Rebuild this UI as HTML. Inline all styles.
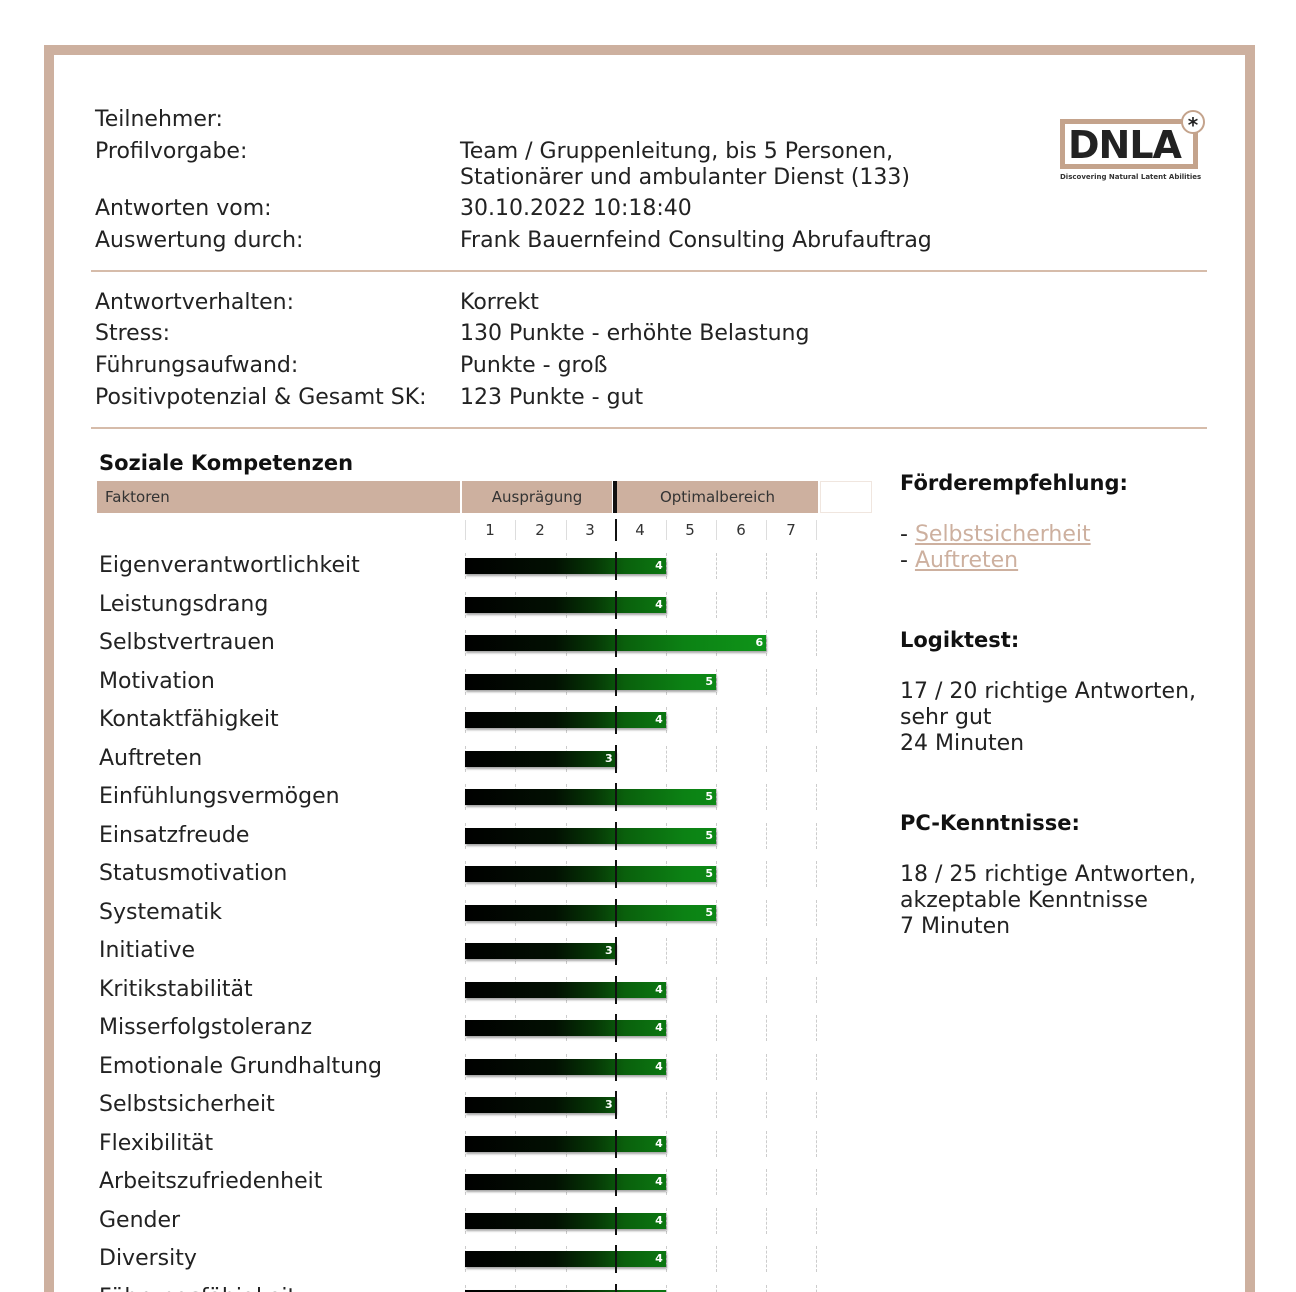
<!DOCTYPE html>
<html><head><meta charset="utf-8"><style>
html,body{margin:0;width:1296px;height:1292px;overflow:hidden}
body{background:#fff;font-family:"DejaVu Sans","Liberation Sans",sans-serif;color:#222;position:relative}
.a{position:absolute;white-space:nowrap;line-height:26px}
.t{font-size:22px}
.frame{position:absolute;left:44px;top:45px;width:1191px;height:1260px;border:10px solid #cdb09f;border-bottom:none}
.hr{position:absolute;left:91px;width:1116px;height:2px;background:#d6bcaa}
.hd{position:absolute;top:481px;height:32px;background:#cdb09f;font-size:15px;line-height:32px;color:#333}
.row{position:absolute;left:0;width:1296px;height:28px}
.row .l{position:absolute;left:99px;top:0;font-size:22px;line-height:28px}
.g{position:absolute;top:1px;width:0;height:26px;border-left:1px dashed #ccc}
.k{position:absolute;left:615px;top:0;width:2px;height:28px;background:#111}
.b{position:absolute;left:465px;top:6px;height:16px;background:linear-gradient(90deg,#000 0px,#021002 90px,#063806 130px,#0a600c 160px,#0c8214 220px,#10a01c 351px);background-size:351px 16px;box-shadow:1px 2px 2px rgba(0,0,0,.35);color:#fff;font-size:11px;font-weight:bold;text-align:right;line-height:16px;box-sizing:border-box;padding-right:3px}
.n{position:absolute;top:518px;font-size:15px;line-height:24px;width:50px;text-align:center;color:#333}
</style></head><body>
<div class="frame"></div>
<div class="a t" style="left:95px;top:107px">Teilnehmer:</div>
<div class="a t" style="left:95px;top:139px">Profilvorgabe:</div>
<div class="a t" style="left:460px;top:139px">Team / Gruppenleitung, bis 5 Personen,</div>
<div class="a t" style="left:460px;top:165px">Stationärer und ambulanter Dienst (133)</div>
<div class="a t" style="left:95px;top:196px">Antworten vom:</div>
<div class="a t" style="left:460px;top:196px">30.10.2022 10:18:40</div>
<div class="a t" style="left:95px;top:228px">Auswertung durch:</div>
<div class="a t" style="left:460px;top:228px">Frank Bauernfeind Consulting Abrufauftrag</div>
<div class="hr" style="top:270px"></div>
<div class="a t" style="left:95px;top:290px">Antwortverhalten:</div>
<div class="a t" style="left:460px;top:290px">Korrekt</div>
<div class="a t" style="left:95px;top:321px">Stress:</div>
<div class="a t" style="left:460px;top:321px">130 Punkte - erhöhte Belastung</div>
<div class="a t" style="left:95px;top:353px">Führungsaufwand:</div>
<div class="a t" style="left:460px;top:353px">Punkte - groß</div>
<div class="a t" style="left:95px;top:385px">Positivpotenzial &amp; Gesamt SK:</div>
<div class="a t" style="left:460px;top:385px">123 Punkte - gut</div>
<div class="hr" style="top:427px"></div>
<!-- logo -->
<div style="position:absolute;left:1060px;top:119px;width:138px;height:50px;border:5px solid #c4a38c;box-sizing:border-box"></div>
<div class="a" style="left:1068px;top:124px;font-size:38px;line-height:42px;font-weight:bold;color:#222;letter-spacing:-1px">DNLA</div>
<div style="position:absolute;left:1181px;top:110px;width:24px;height:24px;border:2px solid #c4a38c;border-radius:50%;background:#fff;box-sizing:border-box;font-size:20px;line-height:26px;text-align:center;font-weight:bold">*</div>
<div class="a" style="left:1060px;top:172px;font-size:7px;line-height:10px;font-weight:bold;color:#333">Discovering Natural Latent Abilities</div>

<div class="a" style="left:99px;top:450px;font-size:21px;font-weight:bold;color:#111">Soziale Kompetenzen</div>
<div class="hd" style="left:97px;width:363px;padding-left:8px;box-sizing:border-box">Faktoren</div>
<div class="hd" style="left:462px;width:150px;text-align:center">Ausprägung</div>
<div style="position:absolute;left:613px;top:481px;width:4px;height:32px;background:#111"></div>
<div class="hd" style="left:617px;width:201px;text-align:center">Optimalbereich</div>
<div style="position:absolute;left:820px;top:481px;width:52px;height:32px;border:1px solid #f0e6df;box-sizing:border-box"></div>
<div class="n" style="left:465px">1</div><div class="n" style="left:515px">2</div><div class="n" style="left:565px">3</div><div class="n" style="left:615px">4</div><div class="n" style="left:665px">5</div><div class="n" style="left:716px">6</div><div class="n" style="left:766px">7</div>
<div style="position:absolute;left:465px;top:520px;width:1px;height:20px;background:#ddd"></div>
<div style="position:absolute;left:515px;top:520px;width:1px;height:20px;background:#ddd"></div>
<div style="position:absolute;left:566px;top:520px;width:1px;height:20px;background:#ddd"></div>
<div style="position:absolute;left:615px;top:519px;width:2px;height:22px;background:#111"></div>
<div style="position:absolute;left:666px;top:520px;width:1px;height:20px;background:#ddd"></div>
<div style="position:absolute;left:716px;top:520px;width:1px;height:20px;background:#ddd"></div>
<div style="position:absolute;left:766px;top:520px;width:1px;height:20px;background:#ddd"></div>
<div style="position:absolute;left:816px;top:520px;width:1px;height:20px;background:#ddd"></div>

<div id="rows"></div>
<script>
var d=[["Eigenverantwortlichkeit",4],["Leistungsdrang",4],["Selbstvertrauen",6],["Motivation",5],["Kontaktfähigkeit",4],["Auftreten",3],["Einfühlungsvermögen",5],["Einsatzfreude",5],["Statusmotivation",5],["Systematik",5],["Initiative",3],["Kritikstabilität",4],["Misserfolgstoleranz",4],["Emotionale Grundhaltung",4],["Selbstsicherheit",3],["Flexibilität",4],["Arbeitszufriedenheit",4],["Gender",4],["Diversity",4],["Führungsfähigkeit",4]];
var h="";
d.forEach(function(r,i){
 var top=Math.round(552+i*38.5);
 h+='<div class="row" style="top:'+top+'px"><div class="l">'+r[0]+'</div>';
 [465,515,566,666,716,766,816].forEach(function(x){h+='<div class="g" style="left:'+x+'px"></div>';});
 h+='<div class="b" style="width:'+(r[1]*50.2)+'px">'+r[1]+'</div><div class="k"></div></div>';
});
document.getElementById("rows").innerHTML=h;
</script>

<div class="a" style="left:900px;top:470px;font-size:21px;font-weight:bold;color:#111">Förderempfehlung:</div>
<div class="a t" style="left:900px;top:522px">- <span style="color:#cdb09f;text-decoration:underline">Selbstsicherheit </span></div>
<div class="a t" style="left:900px;top:548px">- <span style="color:#cdb09f;text-decoration:underline">Auftreten </span></div>
<div class="a" style="left:900px;top:627px;font-size:21px;font-weight:bold;color:#111">Logiktest:</div>
<div class="a t" style="left:900px;top:679px">17 / 20 richtige Antworten,</div>
<div class="a t" style="left:900px;top:705px">sehr gut</div>
<div class="a t" style="left:900px;top:731px">24 Minuten</div>
<div class="a" style="left:900px;top:810px;font-size:21px;font-weight:bold;color:#111">PC-Kenntnisse:</div>
<div class="a t" style="left:900px;top:862px">18 / 25 richtige Antworten,</div>
<div class="a t" style="left:900px;top:888px">akzeptable Kenntnisse</div>
<div class="a t" style="left:900px;top:914px">7 Minuten</div>
</body></html>
